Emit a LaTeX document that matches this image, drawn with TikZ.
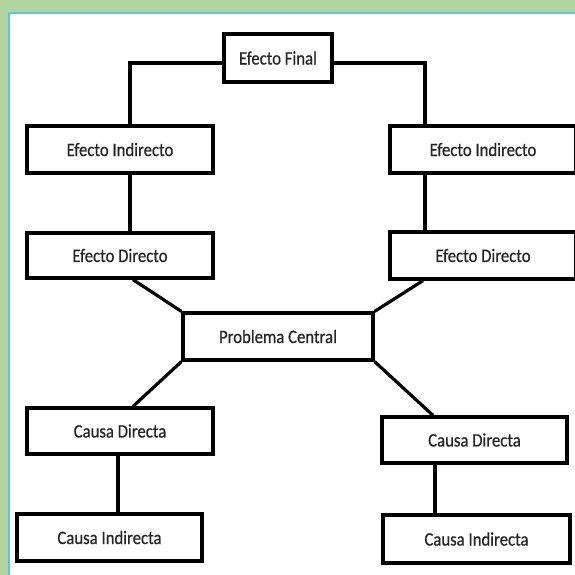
\documentclass[tikz,border=0pt]{standalone}
\usepackage{fontspec}
\setmainfont{Carlito}[FakeStretch=0.88, FakeBold=0.6]
\definecolor{framegreen}{HTML}{B2D49E}
\definecolor{frameblue}{HTML}{5CC6E2}
\definecolor{txt}{HTML}{262626}
\tikzset{
  box/.style={draw=black, line width=3.2pt, fill=white, rectangle, inner sep=0pt,
    font=\fontsize{19}{22}\selectfont, text=txt},
  conn/.style={draw=black, line width=3.2pt, line join=miter},
}
\begin{document}
\begin{tikzpicture}[x=1pt,y=-1pt]
\useasboundingbox (0,0) rectangle (575,575);
\fill[framegreen] (0,0) rectangle (575,575);
\fill[frameblue] (8,12) rectangle (575,575);
\fill[white] (10,14) rectangle (575,575);
\begin{scope}
\clip (10,14) rectangle (575,575);
\node[box, minimum width=108pt, minimum height=48pt] (EF) at (278,58) {Efecto Final};
\node[box, minimum width=186pt, minimum height=47pt] (EIL) at (120,149.5) {Efecto Indirecto};
\node[box, minimum width=186pt, minimum height=45pt] (EDL) at (120,255.5) {Efecto Directo};
\node[box, minimum width=186pt, minimum height=47pt] (EIR) at (483,149.5) {Efecto Indirecto};
\node[box, minimum width=186pt, minimum height=47pt] (EDR) at (483,255.5) {Efecto Directo};
\node[box, minimum width=190pt, minimum height=47pt] (PC) at (278,336.5) {Problema Central};
\node[box, minimum width=186pt, minimum height=46pt] (CDL) at (120,431) {Causa Directa};
\node[box, minimum width=185pt, minimum height=47pt] (CIL) at (109.5,537.5) {Causa Indirecta};
\node[box, minimum width=185pt, minimum height=46pt] (CDR) at (474.5,440) {Causa Directa};
\node[box, minimum width=187pt, minimum height=48pt] (CIR) at (476.5,539) {Causa Indirecta};
\draw[conn] ([yshift=-5pt]EF.west) -| ([xshift=10pt]EIL.north);
\draw[conn] ([yshift=-5pt]EF.east) -| ([xshift=-58pt]EIR.north);
\draw[conn] ([xshift=10pt]EIL.south) -- ([xshift=10pt]EDL.north);
\draw[conn] ([xshift=-58pt]EIR.south) -- ([xshift=-58pt]EDR.north);
\draw[conn] ([xshift=13pt]EDL.south) -- (PC.north west);
\draw[conn] ([xshift=-60pt]EDR.south) -- (PC.north east);
\draw[conn] (PC.south west) -- ([xshift=13pt]CDL.north);
\draw[conn] (PC.south east) -- ([xshift=-41.5pt]CDR.north);
\draw[conn] ([xshift=-2pt]CDL.south) -- ([xshift=-2pt]CDL.south |- CIL.north);
\draw[conn] ([xshift=-39.5pt]CDR.south) -- ([xshift=-39.5pt]CDR.south |- CIR.north);
\end{scope}
\end{tikzpicture}
\end{document}
